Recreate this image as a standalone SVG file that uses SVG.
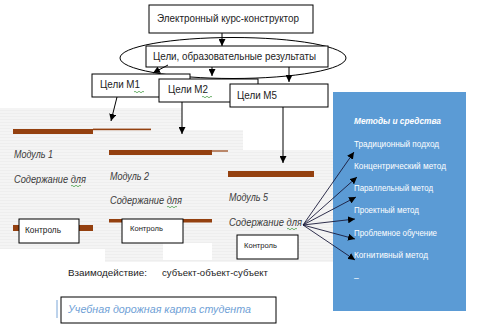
<svg xmlns="http://www.w3.org/2000/svg" width="481" height="327" viewBox="0 0 481 327">
<defs>
<pattern id="stripes" width="6" height="3" patternUnits="userSpaceOnUse">
<rect width="6" height="3" fill="#f4f4f4"/>
<rect y="2" width="6" height="1" fill="#eeeeee"/>
</pattern>
<marker id="ah" viewBox="0 0 10 10" refX="10" refY="5" markerWidth="7" markerHeight="7" markerUnits="userSpaceOnUse" orient="auto">
<path d="M0,0 L10,5 L0,10 z" fill="#000"/>
</marker>
<path id="wave" d="M0,0 q1,-1.5 2,0 t2,0 t2,0 t2,0 t2,0" fill="none" stroke="#4aa04a" stroke-width="0.8"/>
</defs>
<style>
.box{fill:#fff;stroke:#000;stroke-width:1}
.t{font-family:"Liberation Sans",Arial,sans-serif;fill:#222}
.it{font-family:"Liberation Sans",Arial,sans-serif;font-style:italic;fill:#3a3a3a;font-size:10px}
.w{font-family:"Liberation Sans",Arial,sans-serif;fill:#fff;font-size:8.5px}
.bar{fill:#94400f}
.ln{stroke:#000;stroke-width:1;fill:none;marker-end:url(#ah)}
.fan{stroke:#1a1a3a;stroke-width:0.9;fill:none;marker-end:url(#ah)}
</style>
<rect width="481" height="327" fill="#fff"/>

<g id="panels">
<rect x="0" y="108" width="182" height="141" fill="url(#stripes)"/>
<rect x="105" y="130" width="138" height="132" fill="url(#stripes)"/>
<rect x="213" y="150" width="120" height="112" fill="url(#stripes)"/>
<rect x="163" y="243" width="49" height="17" fill="#fff"/>
</g>

<g id="methods">
<rect x="333" y="92" width="133" height="219" fill="#5b9bd5"/>
<text class="w" x="354" y="124" font-weight="bold" font-style="italic" textLength="87" lengthAdjust="spacingAndGlyphs">Методы и средства</text>
<text class="w" x="354" y="147" textLength="85" lengthAdjust="spacingAndGlyphs">Традиционный подход</text>
<text class="w" x="354" y="169" textLength="92" lengthAdjust="spacingAndGlyphs">Концентрический метод</text>
<text class="w" x="354" y="191" textLength="79" lengthAdjust="spacingAndGlyphs">Параллельный метод</text>
<text class="w" x="354" y="213" textLength="65" lengthAdjust="spacingAndGlyphs">Проектный метод</text>
<text class="w" x="354" y="236" textLength="83" lengthAdjust="spacingAndGlyphs">Проблемное обучение</text>
<text class="w" x="354" y="258" textLength="74" lengthAdjust="spacingAndGlyphs">Когнитивный метод</text>
<text class="w" x="354" y="281">–</text>
</g>

<g id="goals-ellipse">
<ellipse cx="233" cy="58" rx="113" ry="20.5" fill="none" stroke="#000" stroke-width="1"/>
</g>

<g id="course">
<rect class="box" x="149" y="5" width="164" height="28"/>
<text class="t" x="157" y="22" font-size="10.5" textLength="142" lengthAdjust="spacingAndGlyphs">Электронный курс-конструктор</text>
</g>

<g id="goals">
<rect class="box" x="146" y="46" width="182" height="21"/>
<text class="t" x="153" y="60" font-size="10.5" textLength="163" lengthAdjust="spacingAndGlyphs">Цели, образовательные результаты</text>
</g>

<g id="m1-goals">
<rect class="box" x="92" y="74" width="98" height="23"/>
<text class="t" x="100" y="88" font-size="10.5" textLength="40" lengthAdjust="spacingAndGlyphs">Цели М1</text>
<use href="#wave" x="134" y="92"/>
</g>
<g id="m2-goals">
<rect class="box" x="159" y="79" width="99" height="23"/>
<text class="t" x="168" y="93" font-size="10.5" textLength="40" lengthAdjust="spacingAndGlyphs">Цели М2</text>
<use href="#wave" x="202" y="97"/>
</g>
<g id="m5-goals">
<rect class="box" x="230" y="84" width="98" height="23"/>
<text class="t" x="237" y="99" font-size="10.5" textLength="40" lengthAdjust="spacingAndGlyphs">Цели М5</text>
</g>

<g id="module1">
<rect class="bar" x="13" y="129" width="80" height="5"/>
<rect class="bar" x="93" y="128.6" width="58" height="1.6"/>
<text class="it" x="14" y="158" textLength="39" lengthAdjust="spacingAndGlyphs">Модуль 1</text>
<text class="it" x="14" y="183" textLength="72" lengthAdjust="spacingAndGlyphs">Содержание  для</text>
<use href="#wave" x="71" y="186"/>
<rect class="bar" x="13" y="225" width="80" height="6"/>
<rect class="box" x="19" y="219" width="60" height="24"/>
<text class="t" x="25" y="233" font-size="8.5" textLength="36" lengthAdjust="spacingAndGlyphs">Контроль</text>
</g>

<g id="module2">
<rect class="bar" x="109" y="150" width="103" height="5"/>
<rect class="bar" x="212" y="150.4" width="16" height="1.2"/>
<text class="it" x="110" y="180" textLength="39" lengthAdjust="spacingAndGlyphs">Модуль 2</text>
<text class="it" x="110" y="204" textLength="72" lengthAdjust="spacingAndGlyphs">Содержание  для</text>
<use href="#wave" x="167" y="207"/>
<rect class="bar" x="109" y="219" width="103" height="3.5"/>
<rect class="box" x="122" y="219" width="61" height="24"/>
<text class="t" x="130" y="231" font-size="7.5" textLength="33" lengthAdjust="spacingAndGlyphs">Контроль</text>
</g>

<g id="module5">
<rect class="bar" x="228" y="171" width="86" height="6"/>
<text class="it" x="229" y="201" textLength="39" lengthAdjust="spacingAndGlyphs">Модуль 5</text>
<text class="it" x="229" y="226" textLength="73" lengthAdjust="spacingAndGlyphs">Содержание  для</text>
<use href="#wave" x="287" y="229"/>
<rect class="box" x="237" y="235" width="61" height="24"/>
<text class="t" x="244" y="248" font-size="7.5" textLength="33" lengthAdjust="spacingAndGlyphs">Контроль</text>
</g>

<g id="connectors">
<line class="ln" x1="222" y1="33" x2="222" y2="46"/>
<line class="ln" x1="168" y1="65" x2="153" y2="73"/>
<line class="ln" x1="212" y1="67" x2="212" y2="76"/>
<line class="ln" x1="289" y1="67" x2="289" y2="82"/>
<line class="ln" x1="117" y1="97" x2="111" y2="121"/>
<line class="ln" x1="182" y1="102" x2="182" y2="134"/>
<line class="ln" x1="283" y1="107" x2="283" y2="163"/>
<line class="fan" x1="303" y1="225" x2="354" y2="152"/>
<line class="fan" x1="303" y1="225" x2="357" y2="177"/>
<line class="fan" x1="303" y1="225" x2="356" y2="197"/>
<line class="fan" x1="303" y1="225" x2="355" y2="219"/>
<line class="fan" x1="303" y1="225" x2="355" y2="239"/>
<line class="fan" x1="303" y1="225" x2="355" y2="260"/>
</g>

<g id="interaction">
<text class="t" x="68" y="276" font-size="9.5" textLength="79" lengthAdjust="spacingAndGlyphs">Взаимодействие:</text>
<text class="t" x="162" y="276" font-size="9.5" textLength="106" lengthAdjust="spacingAndGlyphs">субъект-объект-субъект</text>
</g>

<g id="roadmap">
<line x1="57" y1="300" x2="57" y2="318" stroke="#7aa6d8" stroke-width="1"/>
<rect class="box" x="61" y="297" width="215" height="26"/>
<text x="68" y="313" font-family="Liberation Sans, Arial, sans-serif" font-style="italic" font-size="10.5" fill="#6f9fd6" textLength="183" lengthAdjust="spacingAndGlyphs">Учебная дорожная карта студента</text>
</g>
</svg>
